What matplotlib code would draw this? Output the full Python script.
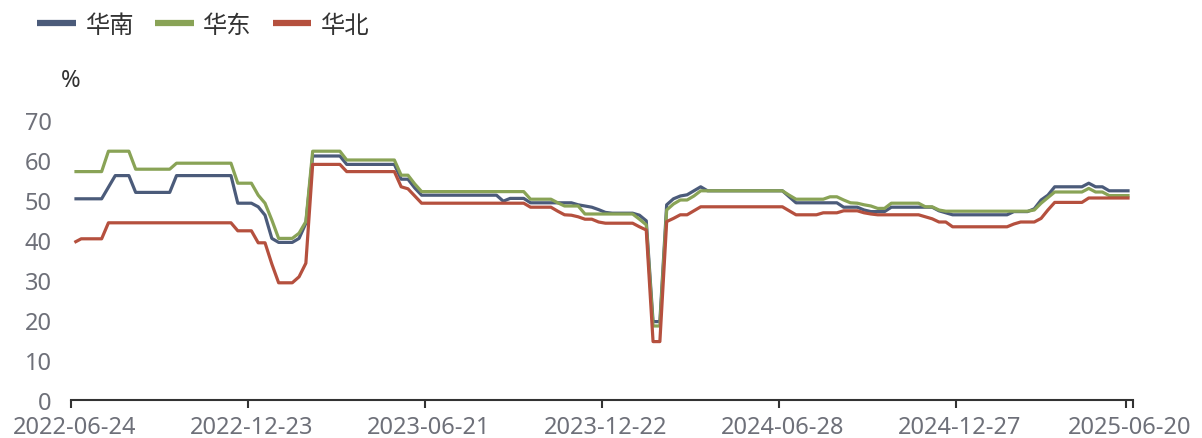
import matplotlib
matplotlib.use("Agg")
import matplotlib.pyplot as plt
import numpy as np

def seg(*pairs):
    out = []
    for v, n in pairs:
        out += [v] * n
    return out

series_names = ["华南", "华东", "华北"]

south = seg((50.3, 5), (53.2, 1), (56.1, 3), (51.9, 6), (56.1, 9), (49.2, 3),
            (48.3, 1), (46.2, 1), (40.4, 1), (39.4, 3), (40.4, 1), (44.2, 1),
            (61.0, 5), (58.9, 8), (55.2, 2), (53.0, 1), (51.2, 12), (49.7, 1),
            (50.4, 3), (49.3, 7), (48.8, 1), (48.5, 1), (48.2, 1), (47.6, 1),
            (46.9, 1), (46.7, 4), (46.2, 1), (44.8, 1), (19.6, 2), (48.8, 1),
            (50.3, 1), (51.0, 1), (51.3, 1), (52.3, 1), (53.3, 1), (52.3, 12),
            (50.8, 1), (49.3, 7), (48.2, 3), (47.5, 1), (47.1, 3), (48.2, 7),
            (47.3, 1), (46.8, 1), (46.3, 9), (47.1, 3), (47.8, 1), (50.0, 1),
            (51.2, 1), (53.3, 5), (54.2, 1), (53.3, 2), (52.3, 4))

east = seg((57.1, 5), (62.2, 4), (57.7, 6), (59.2, 9), (54.2, 3),
           (51.2, 1), (49.2, 1), (45.0, 1), (40.4, 3), (41.7, 1), (44.6, 1),
           (62.2, 5), (60.0, 8), (56.2, 2), (54.0, 1), (52.1, 16), (50.2, 4),
           (49.3, 1), (48.5, 3), (46.5, 8), (45.2, 1), (43.8, 1), (18.5, 2),
           (47.5, 1), (49.0, 1), (50.0, 2), (51.0, 1), (52.3, 13), (51.2, 1),
           (50.2, 5), (50.8, 2), (50.0, 1), (49.3, 1), (49.2, 1), (48.8, 1),
           (48.5, 1), (47.9, 2), (49.2, 5), (48.3, 2), (47.5, 1), (47.2, 13),
           (47.5, 1), (49.2, 1), (50.6, 1), (52.0, 5), (52.9, 1), (52.0, 2),
           (51.1, 4))

north = seg((39.4, 1), (40.3, 4), (44.3, 19), (42.3, 3), (39.3, 2), (34.0, 1),
            (29.3, 3), (30.8, 1), (34.2, 1), (58.9, 5), (57.1, 8), (53.3, 1),
            (52.8, 1), (51.0, 1), (49.2, 16), (48.2, 4), (47.2, 1), (46.3, 1),
            (46.2, 1), (45.8, 1), (45.2, 2), (44.5, 1), (44.2, 5), (43.3, 1),
            (42.5, 1), (14.6, 2), (44.6, 1), (45.4, 1), (46.3, 2), (47.3, 1),
            (48.3, 13), (47.3, 1), (46.3, 4), (46.8, 3), (47.3, 3), (46.8, 1),
            (46.5, 1), (46.3, 7), (45.8, 1), (45.3, 1), (44.5, 2), (43.3, 9),
            (44.0, 1), (44.5, 3), (45.4, 1), (47.5, 1), (49.4, 5), (50.5, 7))

tick_labels = ["2022-06-24", "2022-12-23", "2023-06-21", "2023-12-22",
               "2024-06-28", "2024-12-27", "2025-06-20"]
tick_index = [0, 26, 52, 78, 104, 130, 155]
y_ticks = [0, 10, 20, 30, 40, 50, 60, 70]

colors = ["#4b5b7a", "#89a356", "#b5503e"]

W, H = 1202, 439
fig = plt.figure(figsize=(W / 100, H / 100), dpi=100)
ax = fig.add_axes([71 / W, (H - 401) / H, (1133 - 71) / W, 280 / H])

x = np.arange(len(south))
for vals, name, c in zip([south, east, north], series_names, colors):
    ax.plot(x, vals, color=c, lw=2.3, label=name, solid_joinstyle="round",
            solid_capstyle="butt")

ax.set_xlim(-0.5, len(south) - 0.5)
ax.set_ylim(0, 70)
for s in ["top", "right", "left"]:
    ax.spines[s].set_visible(False)
ax.spines["bottom"].set_color("#333333")
ax.spines["bottom"].set_linewidth(1.5)

ax.set_xticks(tick_index)
ax.set_xticklabels(tick_labels)
bounds = [i - 0.5 for i in tick_index] + [len(south) - 0.5]
ax.set_xticks(bounds, minor=True)
ax.tick_params(axis="x", which="major", length=0, pad=11, labelsize=17,
               labelcolor="#6e7079")
ax.tick_params(axis="x", which="minor", length=6, width=1.5, color="#333333")
ax.set_yticks(y_ticks)
ax.tick_params(axis="y", length=0, pad=14, labelsize=17, labelcolor="#6e7079")
for lab in ax.get_xticklabels() + ax.get_yticklabels():
    lab.set_family(["Noto Sans", "DejaVu Sans"])

fig.text(71 / W, 1 - 81 / H, "%", ha="center", va="center", fontsize=17,
         color="#333333", family=["Noto Sans", "DejaVu Sans"])

leg = fig.legend(loc="center left", bbox_to_anchor=(37 / W, 1 - 26 / H),
                 ncol=3, frameon=False, borderpad=0, borderaxespad=0,
                 handlelength=1.6, handletextpad=0.4, columnspacing=0.85,
                 prop={"family": ["Noto Sans CJK SC", "DejaVu Sans"], "size": 17.5})
for t in leg.get_texts():
    t.set_color("#333333")
for h in leg.get_lines():
    h.set_linewidth(4.5)

fig.savefig("out.png", dpi=100)
